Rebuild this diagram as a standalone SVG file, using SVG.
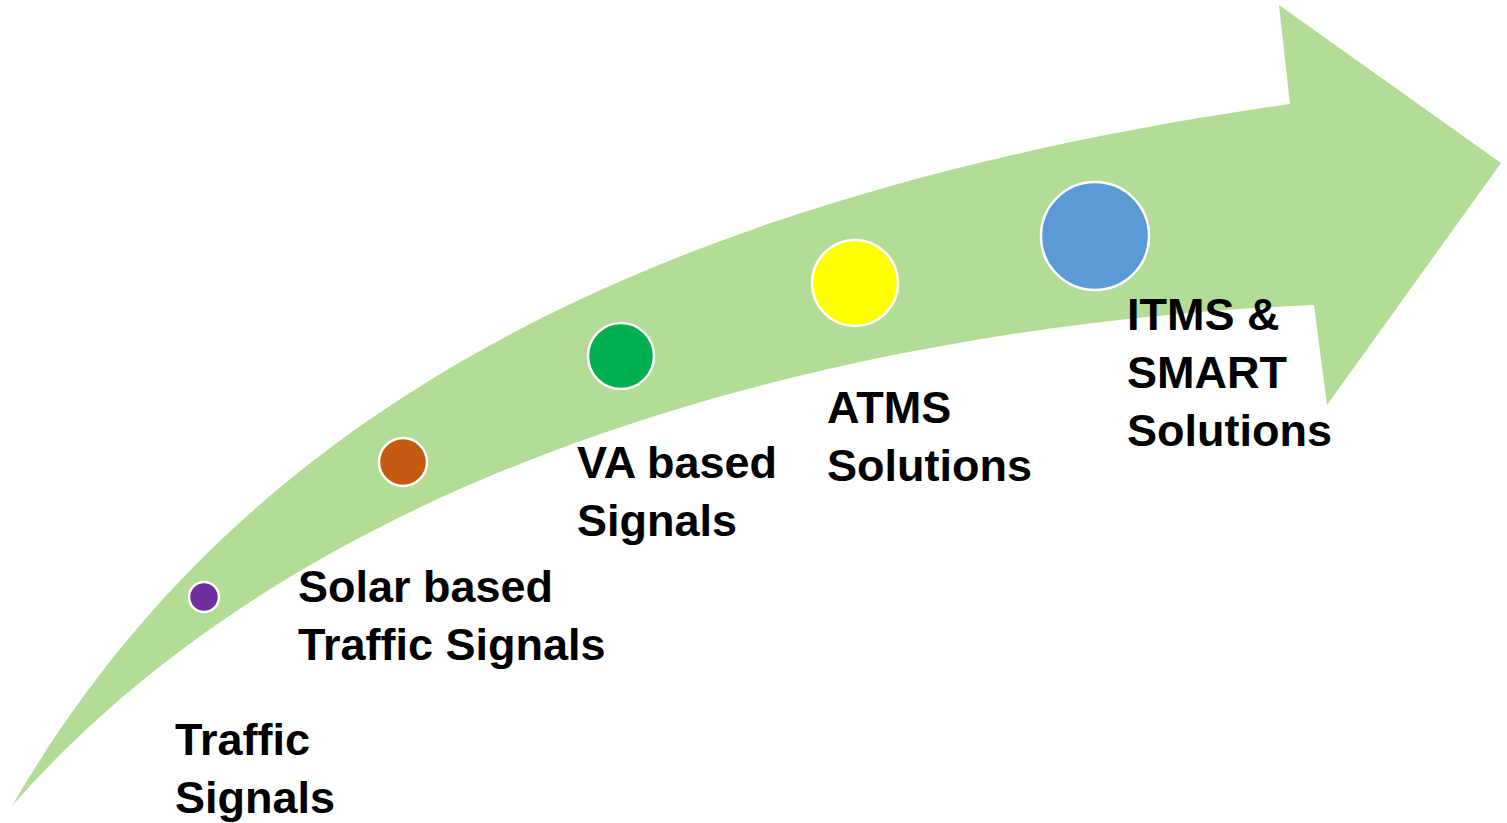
<svg xmlns="http://www.w3.org/2000/svg" width="1507" height="823" viewBox="0 0 1507 823">
<style>
.lbl{font-family:"Liberation Sans",Arial,sans-serif;font-weight:bold;font-size:45px;fill:#000}
.dot{stroke:#fff;stroke-width:2.5}
</style>
<rect width="1507" height="823" fill="#fff"/>
<g id="arrow">
<path d="M12,806 C230,430 620,200 1290,104 L1279,5 L1501,163 L1327,405 L1314,305 C950,320 350,420 12,806 Z" fill="#B3DC97"/>
</g>
<g id="connectors"></g>
<g id="node-traffic">
<circle class="dot" cx="204" cy="597" r="15" fill="#7030A0"/>
<text class="lbl" x="175" y="755">Traffic</text>
<text class="lbl" x="175" y="813">Signals</text>
</g>
<g id="node-solar">
<circle class="dot" cx="403" cy="462" r="24" fill="#C55A11"/>
<text class="lbl" x="298" y="602">Solar based</text>
<text class="lbl" x="298" y="660">Traffic Signals</text>
</g>
<g id="node-va">
<circle class="dot" cx="621" cy="356" r="33" fill="#00B050"/>
<text class="lbl" x="577" y="478">VA based</text>
<text class="lbl" x="577" y="536">Signals</text>
</g>
<g id="node-atms">
<circle class="dot" cx="855" cy="283" r="43" fill="#FFFF00"/>
<text class="lbl" x="827" y="423">ATMS</text>
<text class="lbl" x="827" y="481">Solutions</text>
</g>
<g id="node-itms">
<circle class="dot" cx="1095" cy="236" r="54" fill="#5B9BD5"/>
<text class="lbl" x="1127" y="330">ITMS &amp;</text>
<text class="lbl" x="1127" y="388">SMART</text>
<text class="lbl" x="1127" y="446">Solutions</text>
</g>
</svg>
